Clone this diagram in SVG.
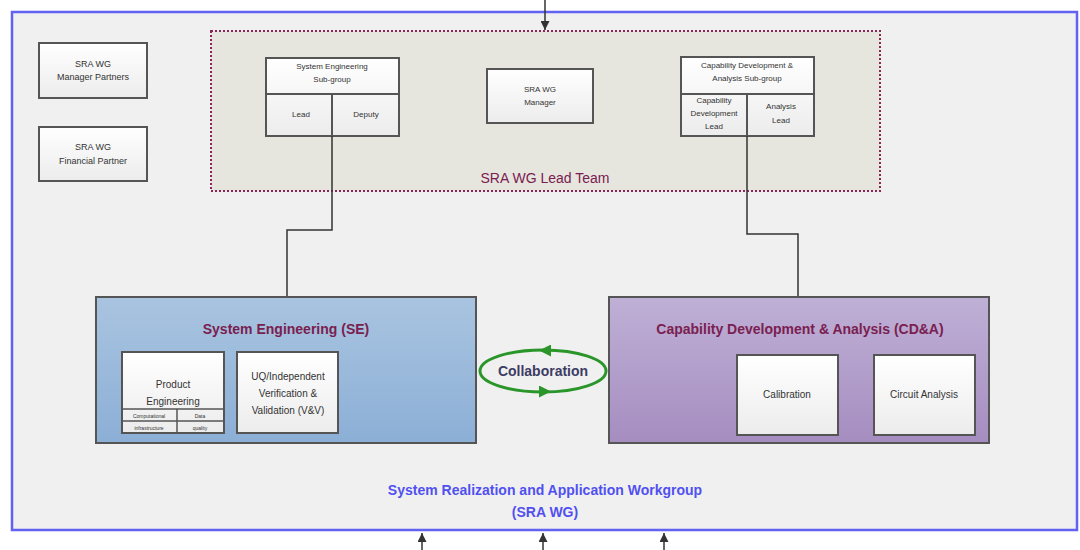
<svg xmlns="http://www.w3.org/2000/svg" width="1080" height="550" viewBox="0 0 1080 550">
<defs>
<linearGradient id="gBox" x1="0" y1="0" x2="0" y2="1"><stop offset="0" stop-color="#ffffff"/><stop offset="1" stop-color="#ececec"/></linearGradient>
<linearGradient id="gSE" x1="0" y1="0" x2="0" y2="1"><stop offset="0" stop-color="#a9c4e0"/><stop offset="1" stop-color="#8cafd6"/></linearGradient>
<linearGradient id="gCD" x1="0" y1="0" x2="0" y2="1"><stop offset="0" stop-color="#bfb0d6"/><stop offset="1" stop-color="#a58dc0"/></linearGradient>
<marker id="ah" viewBox="0 0 10 10" refX="10" refY="5" markerWidth="9" markerHeight="9" markerUnits="userSpaceOnUse" orient="auto"><path d="M0,0 L10,5 L0,10 z" fill="#333"/></marker>
<marker id="gh" viewBox="0 0 10 10" refX="5" refY="5" markerWidth="14" markerHeight="12" markerUnits="userSpaceOnUse" orient="auto"><path d="M0,0 L10,5 L0,10 z" fill="#2a962a"/></marker>
</defs>
<style>
text{font-family:"Liberation Sans",Arial,sans-serif;text-anchor:middle;fill:#333}
.box{fill:url(#gBox);stroke:#555;stroke-width:2}
.s{font-size:9px}
.t{font-size:8px}
.xs{font-size:5px}
.title{font-size:14px;font-weight:bold;fill:#7a2050}
.line{stroke:#333;stroke-width:1.5;fill:none}
</style>
<rect x="0" y="0" width="1080" height="550" fill="#ffffff"/>
<g id="frame">
<rect x="12" y="12" width="1065" height="518" fill="#f0f0f0" stroke="#6262f2" stroke-width="2.5"/>
<text x="545" y="495" style="font-size:14px;font-weight:bold;fill:#5050f0">System Realization and Application Workgroup</text>
<text x="545" y="517" style="font-size:14px;font-weight:bold;fill:#5050f0">(SRA WG)</text>
</g>
<g id="leadteam">
<rect x="211" y="31" width="669" height="160" fill="#e6e6df" stroke="#8b2558" stroke-width="2" stroke-dasharray="2,2"/>
<text x="545" y="183" class="title" style="font-weight:normal">SRA WG Lead Team</text>
</g>
<g id="managerPartners">
<rect class="box" x="39" y="43" width="108" height="55"/>
<text x="93" y="67" class="s">SRA WG</text>
<text x="93" y="80" class="s">Manager Partners</text>
</g>
<g id="financialPartner">
<rect class="box" x="39" y="127" width="108" height="54"/>
<text x="93" y="150" class="s">SRA WG</text>
<text x="93" y="164" class="s">Financial Partner</text>
</g>
<g id="seSubgroup">
<rect class="box" x="266" y="58" width="133" height="78"/>
<line x1="266" y1="94" x2="399" y2="94" stroke="#555" stroke-width="2"/>
<line x1="332" y1="94" x2="332" y2="136" stroke="#555" stroke-width="2"/>
<text x="332" y="69" class="t">System Engineering</text>
<text x="332" y="82" class="t">Sub-group</text>
<text x="301" y="117" class="t">Lead</text>
<text x="366" y="117" class="t">Deputy</text>
</g>
<g id="manager">
<rect class="box" x="487" y="69" width="106" height="54"/>
<text x="540" y="92" class="t">SRA WG</text>
<text x="540" y="105" class="t">Manager</text>
</g>
<g id="cdaSubgroup">
<rect class="box" x="681" y="57" width="133" height="79"/>
<line x1="681" y1="94" x2="814" y2="94" stroke="#555" stroke-width="2"/>
<line x1="747" y1="94" x2="747" y2="136" stroke="#555" stroke-width="2"/>
<text x="747" y="68" class="t">Capability Development &amp;</text>
<text x="747" y="81" class="t">Analysis Sub-group</text>
<text x="714" y="103" class="t">Capability</text>
<text x="714" y="116" class="t">Development</text>
<text x="714" y="129" class="t">Lead</text>
<text x="781" y="109" class="t">Analysis</text>
<text x="781" y="123" class="t">Lead</text>
</g>
<g id="connectors">
<path class="line" d="M545,0 V30" marker-end="url(#ah)"/>
<path class="line" d="M422,550 V533" marker-end="url(#ah)"/>
<path class="line" d="M543,550 V533" marker-end="url(#ah)"/>
<path class="line" d="M664,550 V533" marker-end="url(#ah)"/>
<path class="line" d="M332,136 V230 H287 V297"/>
<path class="line" d="M747,136 V234 H798 V297"/>
</g>
<g id="se">
<rect x="96" y="297" width="380" height="146" fill="url(#gSE)" stroke="#555" stroke-width="2"/>
<text x="286" y="334" class="title">System Engineering (SE)</text>
</g>
<g id="productEngineering">
<rect class="box" x="122" y="352" width="102" height="81"/>
<text x="173" y="388" style="font-size:10px">Product</text>
<text x="173" y="405" style="font-size:10px">Engineering</text>
<line x1="122" y1="409" x2="224" y2="409" stroke="#555" stroke-width="1.5"/>
<line x1="122" y1="421" x2="224" y2="421" stroke="#555" stroke-width="1.5"/>
<line x1="177" y1="409" x2="177" y2="433" stroke="#555" stroke-width="1.5"/>
<text x="149" y="418" class="xs">Computational</text>
<text x="149" y="430" class="xs">infrastructure</text>
<text x="200" y="418" class="xs">Data</text>
<text x="200" y="430" class="xs">quality</text>
</g>
<g id="vv">
<rect class="box" x="237" y="352" width="101" height="81"/>
<text x="288" y="380" style="font-size:10px">UQ/Independent</text>
<text x="288" y="397" style="font-size:10px">Verification &amp;</text>
<text x="288" y="414" style="font-size:10px">Validation (V&amp;V)</text>
</g>
<g id="collaboration">
<ellipse cx="543" cy="371" rx="63" ry="21" fill="none" stroke="#2a962a" stroke-width="3"/>
<path d="M570,350.5 L545,350.5" stroke="none" fill="none" marker-end="url(#gh)"/>
<path d="M520,391.5 L545,391.5" stroke="none" fill="none" marker-end="url(#gh)"/>
<text x="543" y="376" style="font-size:14px;font-weight:bold;fill:#3c3c64">Collaboration</text>
</g>
<g id="cda">
<rect x="609" y="297" width="380" height="146" fill="url(#gCD)" stroke="#555" stroke-width="2"/>
<text x="800" y="334" class="title">Capability Development &amp; Analysis (CD&amp;A)</text>
</g>
<g id="calibration">
<rect class="box" x="737" y="355" width="101" height="80"/>
<text x="787" y="398" style="font-size:10px">Calibration</text>
</g>
<g id="circuitAnalysis">
<rect class="box" x="874" y="355" width="101" height="80"/>
<text x="924" y="398" style="font-size:10px">Circuit Analysis</text>
</g>
</svg>
